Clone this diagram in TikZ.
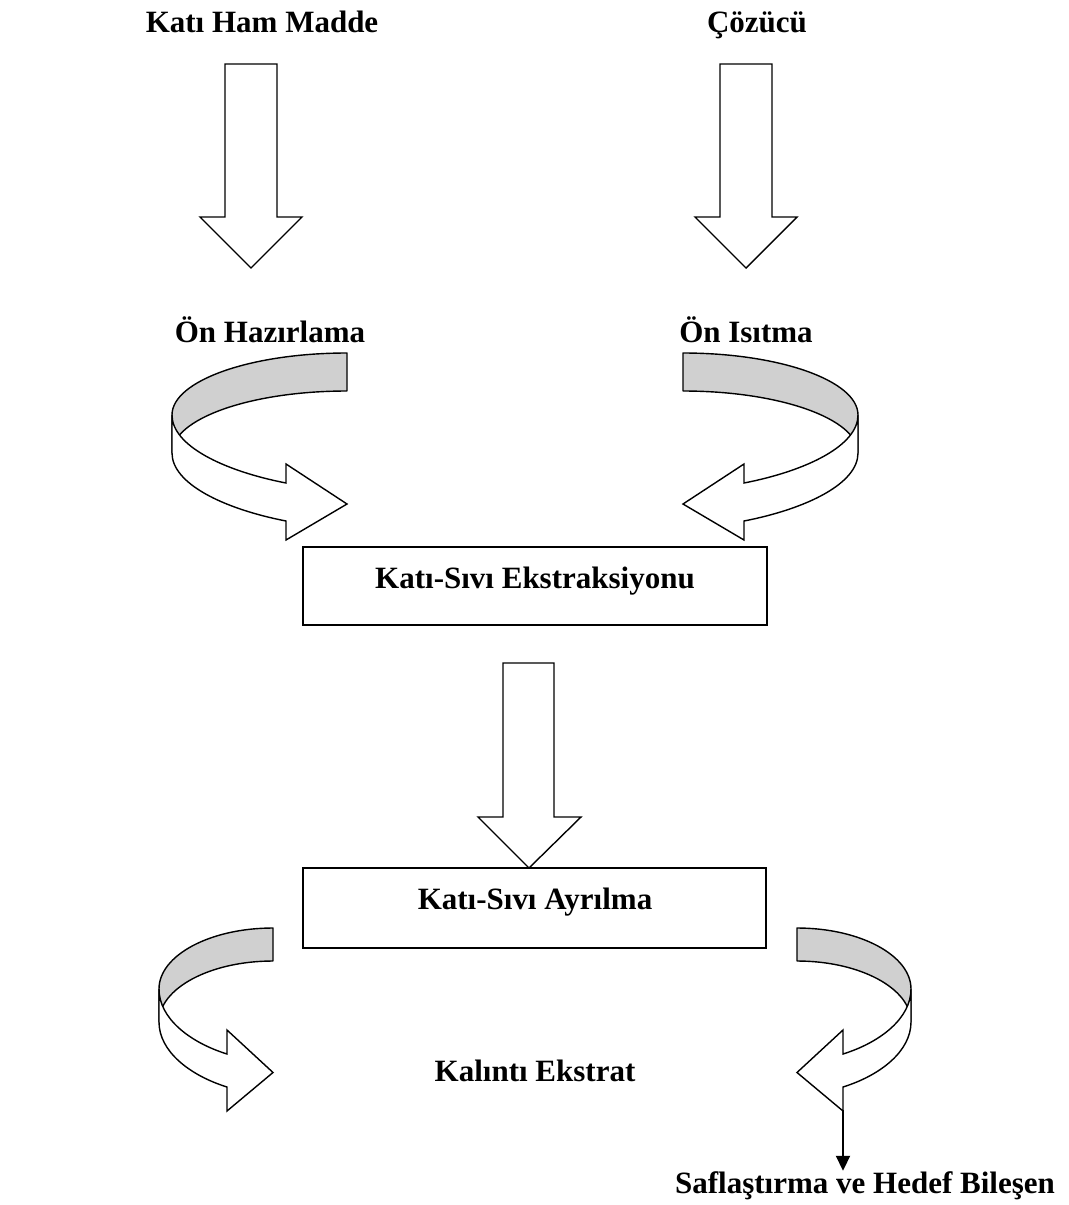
\documentclass[tikz,border=0pt]{standalone}
\usepackage{fontspec}
\setmainfont{Liberation Serif}
\usetikzlibrary{arrows.meta}
\definecolor{bandgrey}{RGB}{208,208,208}
\tikzset{
  lbl/.style={font=\bfseries\fontsize{15.5}{18}\selectfont, inner sep=0pt, anchor=base},
  procbox/.style={draw=black, line width=1pt, fill=white},
  blockarrow/.style={draw=black, line width=0.7pt, fill=white, line join=miter},
  backband/.style={draw=black, line width=0.7pt, fill=bandgrey, line join=round},
  frontband/.style={draw=black, line width=0.7pt, fill=white, line join=miter},
  thinarrow/.style={draw=black, line width=1pt, -{Triangle[length=7.5pt,width=7pt]}}
}
% curved ribbon arrow, drawn in local units: origin = upper corner of the ribbon end,
% #1 = x radius, #2 = y radius, #3 = ribbon height, #4 = x of head back,
% #5 = y of upper notch, #6 = how far the head sticks out past the ribbon
\newcommand{\ribbonarrow}[6]{%
  \draw[backband] (0,0) .. controls ({0.552*#1},0) and (#1,{#2-0.552*#2}) .. (#1,#2)
     -- (#1,{#2+#3}) .. controls (#1,{#2+#3-0.552*#2}) and ({0.552*#1},#3) .. (0,#3) -- cycle;
  \draw[frontband] (#1,#2) .. controls (#1,{#2+0.45*(#5-#2)}) and ({#4+0.55*(#1-#4)},{#5-0.18*(#5-#2)}) .. (#4,#5)
     -- (#4,{#5-#6}) -- (0,{#5+0.5*#3+2}) -- (#4,{#5+#3+#6}) -- (#4,{#5+#3})
     .. controls ({#4+0.55*(#1-#4)},{#5+#3-0.18*(#5-#2)}) and (#1,{#2+#3+0.45*(#5-#2)}) .. (#1,{#2+#3}) -- cycle;
}
\begin{document}
\begin{tikzpicture}[x=0.5pt,y=-0.5pt]
\useasboundingbox[fill=white] (0,0) rectangle (1069,1205);

% labels
\node[lbl] (raw) at (262,32) {Katı Ham Madde};
\node[lbl] (solvent) at (757,32) {Çözücü};
\node[lbl] (prep) at (270,342) {Ön Hazırlama};
\node[lbl] (heat) at (746,342) {Ön Isıtma};

% straight block arrows
\draw[blockarrow] (225,64) -- (277,64) -- (277,217) -- (302,217) -- (251,268) -- (200,217) -- (225,217) -- cycle;
\draw[blockarrow] (720,64) -- (772,64) -- (772,217) -- (797,217) -- (746,268) -- (695,217) -- (720,217) -- cycle;

% curved arrows into the extraction step
\begin{scope}[shift={(683,353)}]
  \ribbonarrow{175}{62}{38}{61}{130}{19}
\end{scope}
\begin{scope}[shift={(347,353)}, xscale=-1]
  \ribbonarrow{175}{62}{38}{61}{130}{19}
\end{scope}

% process boxes
\draw[procbox] (303,547) rectangle (767,625);
\node[lbl] (extract) at (535,588) {Katı-Sıvı Ekstraksiyonu};

\draw[blockarrow] (503,663) -- (554,663) -- (554,817) -- (581,817) -- (529,868) -- (478,817) -- (503,817) -- cycle;

\draw[procbox] (303,868) rectangle (766,948);
\node[lbl] (separate) at (535,909) {Katı-Sıvı Ayrılma};

% curved arrows out of the separation step
\begin{scope}[shift={(797,928)}]
  \ribbonarrow{114}{61}{33}{46}{126}{24}
\end{scope}
\begin{scope}[shift={(273,928)}, xscale=-1]
  \ribbonarrow{114}{61}{33}{46}{126}{24}
\end{scope}

\node[lbl] (residue) at (535,1081) {Kalıntı Ekstrat};
\node[lbl] (purify) at (865,1193) {Saflaştırma ve Hedef Bileşen};
\coordinate (headbase) at (843,1110);
\draw[thinarrow] (headbase) -- (purify.north -| headbase);
\end{tikzpicture}
\end{document}
